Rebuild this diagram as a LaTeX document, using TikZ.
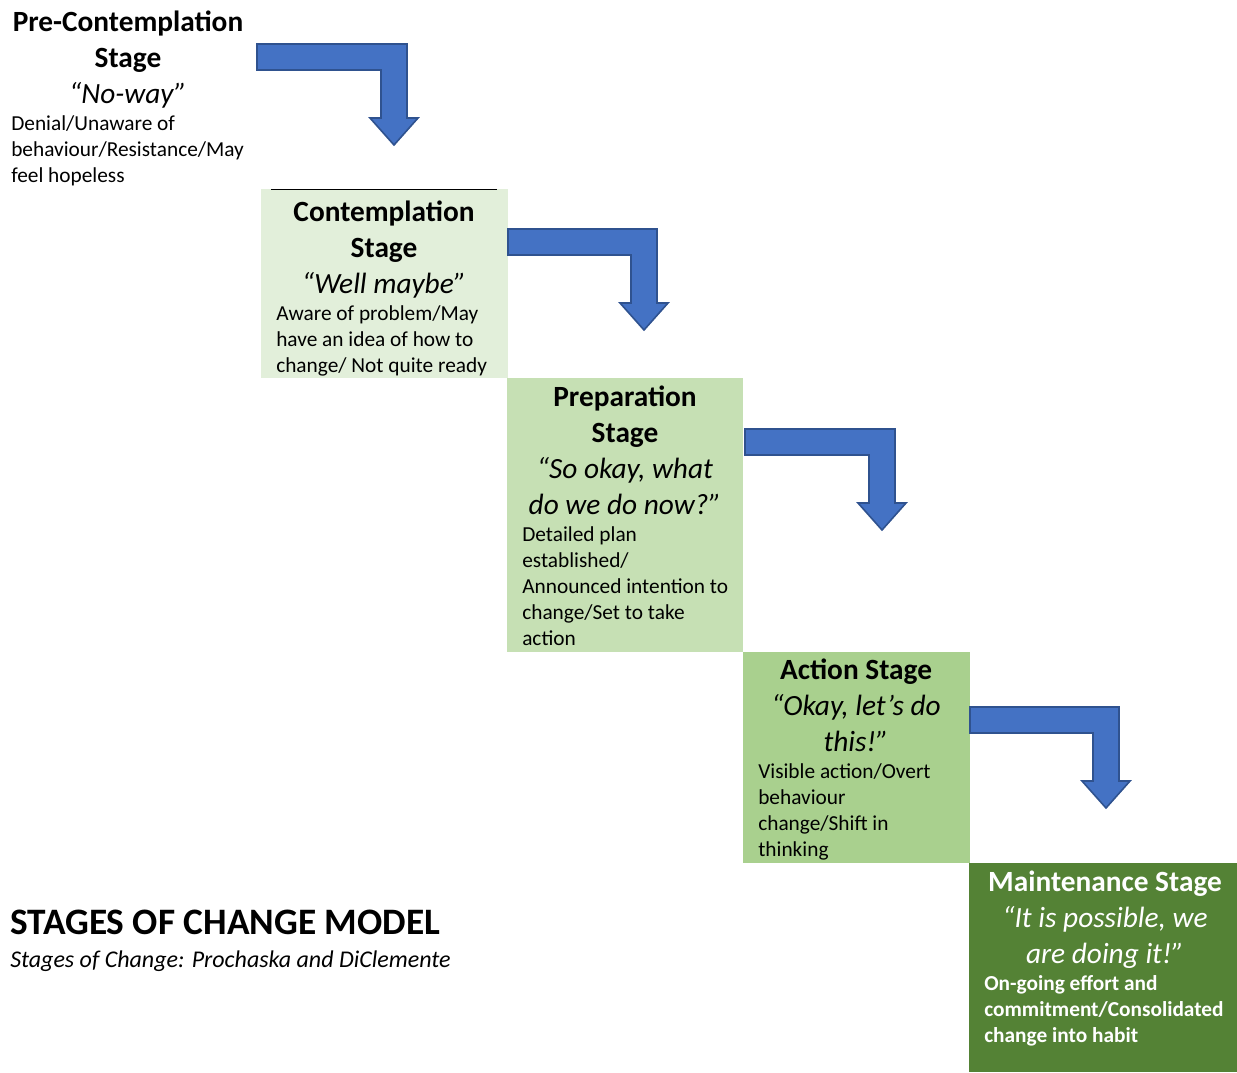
\documentclass[tikz,border=0pt]{standalone}
\usepackage{fontspec}
\setmainfont{Carlito}
\usepackage{xcolor}

\definecolor{arrowblue}{HTML}{4472C4}
\definecolor{arrowedge}{HTML}{2F528F}
\definecolor{contempfill}{HTML}{E2EFDA}
\definecolor{prepfill}{HTML}{C6E0B4}
\definecolor{actionfill}{HTML}{A9D08E}
\definecolor{maintfill}{HTML}{548235}

\tikzset{
	headtext/.style={anchor=base, align=center, inner sep=0pt,
		font=\fontsize{22}{27}\selectfont},
	bodytext/.style={anchor=base west, align=left, inner sep=0pt,
		font=\fontsize{16}{19.5}\selectfont},
	bentarrow/.style={fill=arrowblue, draw=arrowedge, line width=1.2pt, line join=miter}
}

\begin{document}
\begin{tikzpicture}[x=0.75pt, y=-0.75pt]
				
				\useasboundingbox (0,0) rectangle (1237,1072);
				
				% --- Stage boxes ---
				\fill[contempfill] (261,189) rectangle (508,378);
				\draw[line width=1.2pt] (271,189.5) -- (497,189.5);
				\fill[prepfill] (507,378) rectangle (743,652);
				\fill[actionfill] (743,652) rectangle (970,863);
				\fill[maintfill] (969,863) rectangle (1237,1072);
				
				% --- Bent arrows (left end, right edge, top) ---
				\foreach \a/\b/\t in {257/407/44, 508/657/229, 745/895/429, 970/1119/707} {
					\draw[bentarrow]
					(\a,\t) -- (\b,\t) -- (\b,{\t+74}) -- ({\b+11},{\t+74})
					-- ({\b-13},{\t+101}) -- ({\b-37},{\t+74}) -- ({\b-26},{\t+74})
					-- ({\b-26},{\t+26}) -- (\a,{\t+26}) -- cycle;
				}
				
				% --- Pre-contemplation (base = last line) ---
				\node[headtext] (prehead) at (128,103)
				{\textbf{Pre-Contemplation}\\\textbf{Stage}\\\textit{“No-way”}};
				\node[bodytext] (prebody) at (11,182)
				{Denial/Unaware of\\behaviour/Resistance/May\\feel hopeless};
				
				% --- Contemplation ---
				\node[headtext] (conthead) at (384,293)
				{\textbf{Contemplation}\\\textbf{Stage}\\\textit{“Well maybe”}};
				\node[bodytext] (contbody) at (276,372)
				{Aware of problem/May\\have an idea of how to\\change/ Not quite ready};
				
				% --- Preparation ---
				\node[headtext] (prephead) at (625,514)
				{\textbf{Preparation}\\\textbf{Stage}\\\textit{“So okay, what}\\\textit{do we do now?”}};
				\node[bodytext] (prepbody) at (522,645)
				{Detailed plan\\established/\\Announced intention to\\change/Set to take\\action};
				
				% --- Action ---
				\node[headtext] (acthead) at (856,751)
				{\textbf{Action Stage}\\\textit{“Okay, let’s do}\\\textit{this!”}};
				\node[bodytext] (actbody) at (758,856)
				{Visible action/Overt\\behaviour\\change/Shift in\\thinking};
				
				% --- Maintenance ---
				\node[headtext, text=white] (mainthead) at (1105,963)
				{\textbf{Maintenance Stage}\\\textit{“It is possible, we}\\\textit{are doing it!”}};
				\node[bodytext, text=white, font=\fontsize{16}{19.5}\selectfont\bfseries] (maintbody) at (984,1042)
				{On-going effort and\\commitment/Consolidated\\change into habit};
				
				% --- Title ---
				\node[anchor=base west, inner sep=0pt, font=\fontsize{28}{34}\selectfont\bfseries]
				(title) at (10,934) {STAGES OF CHANGE MODEL};
				\node[anchor=base west, inner sep=0pt, font=\fontsize{18}{22}\selectfont\itshape]
				(subtitle) at (10,967) {Stages of Change: Prochaska and DiClemente};
				
			\end{tikzpicture}
\end{document}
